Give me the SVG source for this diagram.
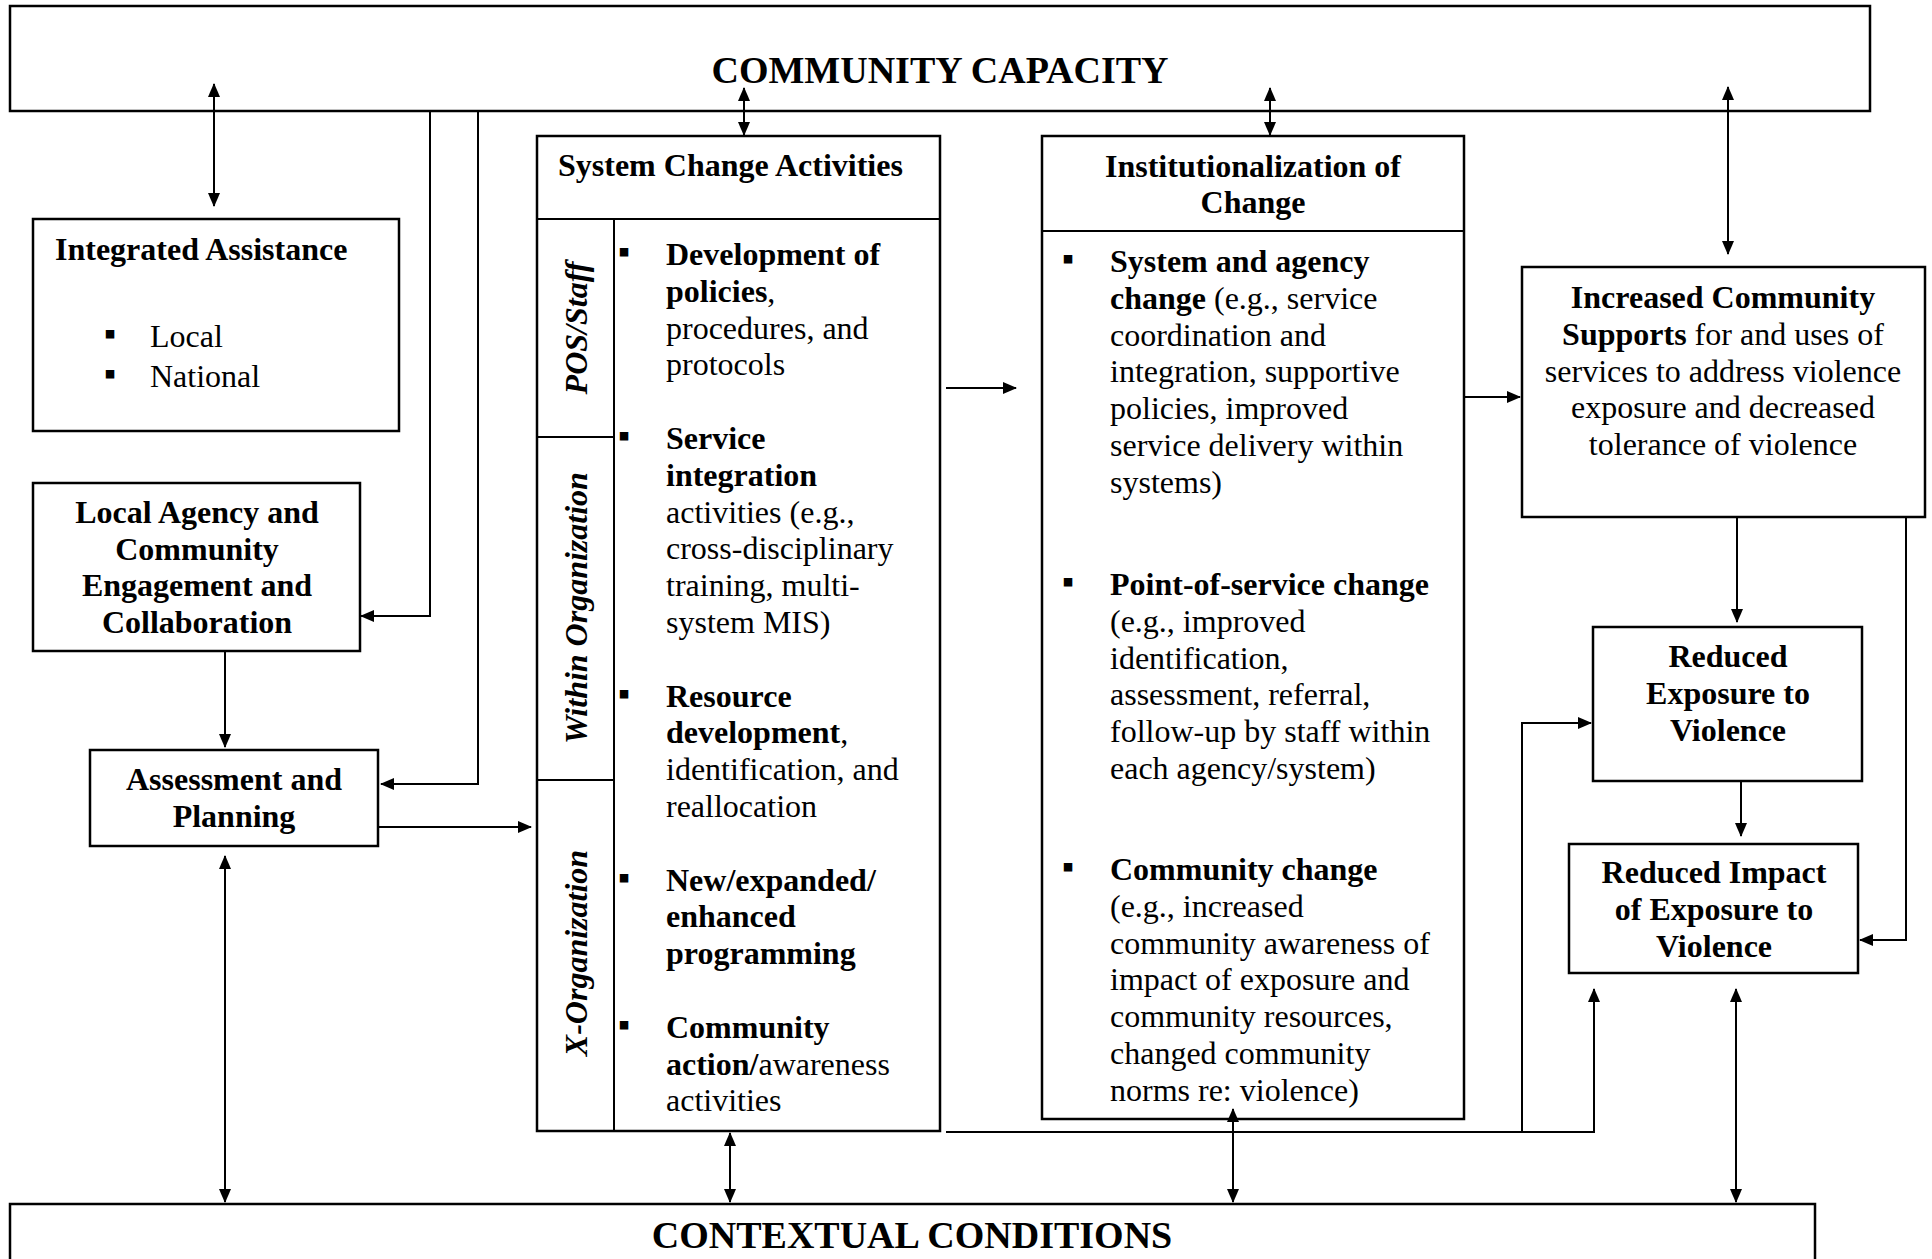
<svg xmlns="http://www.w3.org/2000/svg" width="1932" height="1259" viewBox="0 0 1932 1259">
<defs>
<style>
.box{fill:#fff;stroke:#000;stroke-width:2.5}
.ln{fill:none;stroke:#000;stroke-width:2}
.t{font-family:"Liberation Serif","Times New Roman",serif;font-size:32px;fill:#000}
.b{font-weight:bold}
.h{font-size:38px;font-weight:bold}
.v{font-weight:bold;font-style:italic}
.bul{font-family:"Liberation Serif","DejaVu Sans",serif;font-size:34px;fill:#000}
.m{text-anchor:middle}
</style>
<marker id="ah" markerUnits="userSpaceOnUse" markerWidth="14" markerHeight="12" refX="13" refY="6" orient="auto-start-reverse">
<path d="M0,0 L14,6 L0,12 z" fill="#000"/>
</marker>
</defs>
<rect width="1932" height="1259" fill="#fff"/>

<g id="community-capacity">
<rect class="box" x="10" y="6" width="1860" height="105"/>
<text class="t h m" x="940" y="83">COMMUNITY CAPACITY</text>
</g>

<g id="contextual-conditions">
<rect class="box" x="10" y="1204" width="1805" height="70"/>
<text class="t h m" x="912" y="1248">CONTEXTUAL CONDITIONS</text>
</g>

<g id="integrated-assistance">
<rect class="box" x="33" y="219" width="366" height="212"/>
<text class="t b" x="55" y="260">Integrated Assistance</text>
<text class="bul" x="104" y="345">▪</text>
<text class="t" x="150" y="347">Local</text>
<text class="bul" x="104" y="385">▪</text>
<text class="t" x="150" y="387">National</text>
</g>

<g id="local-agency">
<rect class="box" x="33" y="483" width="327" height="168"/>
<text class="t b m" x="197" y="523">Local Agency and</text>
<text class="t b m" x="197" y="560">Community</text>
<text class="t b m" x="197" y="596">Engagement and</text>
<text class="t b m" x="197" y="633">Collaboration</text>
</g>

<g id="assessment-planning">
<rect class="box" x="90" y="750" width="288" height="96"/>
<text class="t b m" x="234" y="790">Assessment and</text>
<text class="t b m" x="234" y="827">Planning</text>
</g>

<g id="system-change">
<rect class="box" x="537" y="136" width="403" height="995"/>
<line class="ln" x1="537" y1="219" x2="940" y2="219"/>
<line class="ln" x1="614" y1="219" x2="614" y2="1131"/>
<line class="ln" x1="537" y1="437" x2="614" y2="437"/>
<line class="ln" x1="537" y1="780" x2="614" y2="780"/>
<text class="t b" x="558" y="176">System Change Activities</text>
<text class="t v m" transform="translate(587,328) rotate(-90)">POS/Staff</text>
<text class="t v m" transform="translate(587,608) rotate(-90)">Within Organization</text>
<text class="t v m" transform="translate(587,953) rotate(-90)">X-Organization</text>
<text class="bul" x="618" y="263">▪</text>
<text class="t" x="666" y="265"><tspan class="b">Development of</tspan></text>
<text class="t" x="666" y="302"><tspan class="b">policies</tspan>,</text>
<text class="t" x="666" y="339">procedures, and</text>
<text class="t" x="666" y="375">protocols</text>
<text class="bul" x="618" y="447">▪</text>
<text class="t b" x="666" y="449">Service</text>
<text class="t b" x="666" y="486">integration</text>
<text class="t" x="666" y="523">activities (e.g.,</text>
<text class="t" x="666" y="559">cross-disciplinary</text>
<text class="t" x="666" y="596">training, multi-</text>
<text class="t" x="666" y="633">system MIS)</text>
<text class="bul" x="618" y="705">▪</text>
<text class="t b" x="666" y="707">Resource</text>
<text class="t" x="666" y="743"><tspan class="b">development</tspan>,</text>
<text class="t" x="666" y="780">identification, and</text>
<text class="t" x="666" y="817">reallocation</text>
<text class="bul" x="618" y="889">▪</text>
<text class="t b" x="666" y="891">New/expanded/</text>
<text class="t b" x="666" y="927">enhanced</text>
<text class="t b" x="666" y="964">programming</text>
<text class="bul" x="618" y="1036">▪</text>
<text class="t b" x="666" y="1038">Community</text>
<text class="t" x="666" y="1075"><tspan class="b">action/</tspan>awareness</text>
<text class="t" x="666" y="1111">activities</text>
</g>

<g id="institutionalization">
<rect class="box" x="1042" y="136" width="422" height="983"/>
<line class="ln" x1="1042" y1="231" x2="1464" y2="231"/>
<text class="t b m" x="1253" y="177">Institutionalization of</text>
<text class="t b m" x="1253" y="213">Change</text>
<text class="bul" x="1062" y="270">▪</text>
<text class="t b" x="1110" y="272">System and agency</text>
<text class="t" x="1110" y="309"><tspan class="b">change</tspan> (e.g., service</text>
<text class="t" x="1110" y="346">coordination and</text>
<text class="t" x="1110" y="382">integration, supportive</text>
<text class="t" x="1110" y="419">policies, improved</text>
<text class="t" x="1110" y="456">service delivery within</text>
<text class="t" x="1110" y="493">systems)</text>
<text class="bul" x="1062" y="593">▪</text>
<text class="t b" x="1110" y="595">Point-of-service change</text>
<text class="t" x="1110" y="632">(e.g., improved</text>
<text class="t" x="1110" y="669">identification,</text>
<text class="t" x="1110" y="705">assessment, referral,</text>
<text class="t" x="1110" y="742">follow-up by staff within</text>
<text class="t" x="1110" y="779">each agency/system)</text>
<text class="bul" x="1062" y="878">▪</text>
<text class="t b" x="1110" y="880">Community change</text>
<text class="t" x="1110" y="917">(e.g., increased</text>
<text class="t" x="1110" y="954">community awareness of</text>
<text class="t" x="1110" y="990">impact of exposure and</text>
<text class="t" x="1110" y="1027">community resources,</text>
<text class="t" x="1110" y="1064">changed community</text>
<text class="t" x="1110" y="1101">norms re: violence)</text>
</g>

<g id="increased-community-supports">
<rect class="box" x="1522" y="267" width="403" height="250"/>
<text class="t b m" x="1723" y="308">Increased Community</text>
<text class="t m" x="1723" y="345"><tspan class="b">Supports</tspan> for and uses of</text>
<text class="t m" x="1723" y="382">services to address violence</text>
<text class="t m" x="1723" y="418">exposure and decreased</text>
<text class="t m" x="1723" y="455">tolerance of violence</text>
</g>

<g id="reduced-exposure">
<rect class="box" x="1593" y="627" width="269" height="154"/>
<text class="t b m" x="1728" y="667">Reduced</text>
<text class="t b m" x="1728" y="704">Exposure to</text>
<text class="t b m" x="1728" y="741">Violence</text>
</g>

<g id="reduced-impact">
<rect class="box" x="1569" y="844" width="289" height="129"/>
<text class="t b m" x="1714" y="883">Reduced Impact</text>
<text class="t b m" x="1714" y="920">of Exposure to</text>
<text class="t b m" x="1714" y="957">Violence</text>
</g>

<g id="connectors">
<path class="ln" d="M214,84 V206" marker-start="url(#ah)" marker-end="url(#ah)"/>
<path class="ln" d="M744,88 V135" marker-start="url(#ah)" marker-end="url(#ah)"/>
<path class="ln" d="M1270,88 V135" marker-start="url(#ah)" marker-end="url(#ah)"/>
<path class="ln" d="M1728,87 V254" marker-start="url(#ah)" marker-end="url(#ah)"/>
<path class="ln" d="M430,111 V616 H361" marker-end="url(#ah)"/>
<path class="ln" d="M478,111 V784 H381" marker-end="url(#ah)"/>
<path class="ln" d="M225,651 V747" marker-end="url(#ah)"/>
<path class="ln" d="M378,827 H531" marker-end="url(#ah)"/>
<path class="ln" d="M225,856 V1202" marker-start="url(#ah)" marker-end="url(#ah)"/>
<path class="ln" d="M730,1133 V1202" marker-start="url(#ah)" marker-end="url(#ah)"/>
<path class="ln" d="M946,388 H1016" marker-end="url(#ah)"/>
<path class="ln" d="M1464,397 H1520" marker-end="url(#ah)"/>
<path class="ln" d="M1737,517 V622" marker-end="url(#ah)"/>
<path class="ln" d="M1906,517 V940 H1860" marker-end="url(#ah)"/>
<path class="ln" d="M1741,781 V836" marker-end="url(#ah)"/>
<path class="ln" d="M946,1132 H1594 V989" marker-end="url(#ah)"/>
<path class="ln" d="M1522,1132 V723 H1591" marker-end="url(#ah)"/>
<path class="ln" d="M1233,1109 V1202" marker-start="url(#ah)" marker-end="url(#ah)"/>
<path class="ln" d="M1736,989 V1202" marker-start="url(#ah)" marker-end="url(#ah)"/>
</g>
</svg>
